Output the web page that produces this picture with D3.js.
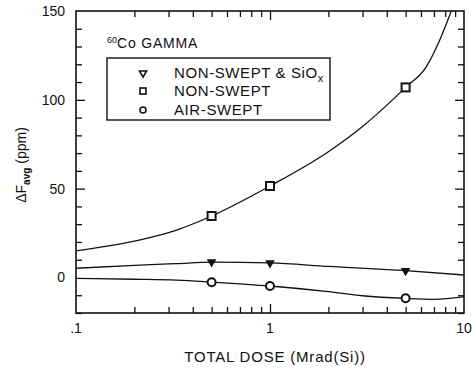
<!DOCTYPE html>
<html>
<head>
<meta charset="utf-8">
<script src="https://cdn.jsdelivr.net/npm/d3@7"></script>
<style>
  body { margin: 0; background: #fff; }
  svg { display: block; font-family: "Liberation Sans", Arial, sans-serif; }
</style>
</head>
<body>
<script>
// measured points
var doses = [0.5, 1, 5];
var nonSweptSiOx = [8.7, 8.2, 3.8];
var nonSwept = [34.6, 51.5, 107];
var airSwept = [-2.7, -4.8, -11.7];

// fitted curves
var fitSiOxX = [0.1, 0.2, 0.33, 0.5, 1, 2, 5, 10];
var fitSiOxY = [5.2, 6.8, 7.8, 8.6, 8.2, 6.2, 3.8, 1.4];
var fitNonX = [0.1, 0.15, 0.22, 0.33, 0.5, 1, 2, 3, 5, 6.4, 7.5, 8.6];
var fitNonY = [15, 17.9, 21.5, 26.7, 34.6, 51.5, 70.8, 85, 107, 118.7, 133.7, 150];
var fitAirX = [0.1, 0.2, 0.33, 0.5, 1, 2, 3, 5, 7, 10];
var fitAirY = [-0.5, -1, -1.5, -2.6, -4.8, -8, -10.3, -11.8, -12.3, -10.8];

var xTickVals = [0.1, 1, 10];
var xTickLabels = ['.1', '1', '10'];
var yTickVals = [0, 50, 100, 150];
var legendLabels = ['NON-SWEPT & SiO', 'NON-SWEPT', 'AIR-SWEPT'];

var W = 473, H = 369;
var svg = d3.select('body').append('svg')
  .attr('width', W)
  .attr('height', H);

var x = d3.scaleLog().domain([0.1, 10]).range([76, 464]);
var y = d3.scaleLinear().domain([-20, 150]).range([313, 11]);

var xMinor = [];
[0.1, 1].forEach(function (d) {
  for (var k = 2; k <= 9; k++) xMinor.push(d * k);
});
var yMinor = d3.range(-20, 151, 10).filter(function (v) { return v % 50 !== 0; });

function tickAxis(axisFn, scale, vals, size, tf) {
  var g = svg.append('g').attr('transform', tf)
    .call(axisFn(scale).tickValues(vals).tickSize(size).tickFormat(''));
  g.select('.domain').remove();
  g.selectAll('line').attr('stroke', '#111').attr('stroke-width', 1.3);
  return g;
}

// bottom & top
tickAxis(d3.axisBottom, x, xMinor, -6, 'translate(0,313)');
tickAxis(d3.axisBottom, x, [1], -9, 'translate(0,313)');
tickAxis(d3.axisTop, x, xMinor, -6, 'translate(0,11)');
tickAxis(d3.axisTop, x, [1], -9, 'translate(0,11)');
// left & right
tickAxis(d3.axisLeft, y, yMinor, -6, 'translate(76,0)');
tickAxis(d3.axisLeft, y, [50, 100], -9, 'translate(76,0)');
tickAxis(d3.axisRight, y, yMinor, -6, 'translate(464,0)');
tickAxis(d3.axisRight, y, [50, 100], -9, 'translate(464,0)');

// frame
svg.append('rect')
  .attr('x', 76).attr('y', 11)
  .attr('width', 388).attr('height', 302)
  .attr('fill', 'none')
  .attr('stroke', '#111')
  .attr('stroke-width', 1.6);

// tick labels
svg.selectAll('.xlab').data(xTickVals).enter().append('text')
  .attr('x', function (d) { return x(d); })
  .attr('y', 333)
  .attr('text-anchor', 'middle')
  .style('font-size', '14px')
  .attr('fill', '#111')
  .text(function (d, i) { return xTickLabels[i]; });

svg.selectAll('.ylab').data(yTickVals).enter().append('text')
  .attr('x', 65)
  .attr('y', function (d) { return y(d) + 5; })
  .attr('text-anchor', 'end')
  .style('font-size', '14px')
  .attr('fill', '#111')
  .text(function (d) { return d; });

// axis titles
svg.append('text')
  .attr('x', 275).attr('y', 362)
  .attr('text-anchor', 'middle')
  .style('font-size', '15px')
  .style('letter-spacing', '0.8px')
  .attr('fill', '#111')
  .text('TOTAL DOSE (Mrad(Si))');

var yt = svg.append('text')
  .attr('transform', 'translate(26,165) rotate(-90)')
  .attr('text-anchor', 'middle')
  .style('font-size', '14px')
  .attr('fill', '#111');
yt.append('tspan').text('ΔF');
yt.append('tspan').attr('dy', 4).style('font-size', '10px').style('font-weight', 'bold').text('avg');
yt.append('tspan').attr('dy', -4).text(' (ppm)');

// curves
var clip = svg.append('clipPath').attr('id', 'plot')
  .append('rect').attr('x', 76).attr('y', 11).attr('width', 388).attr('height', 302);

var line = d3.line()
  .x(function (d) { return x(d[0]); })
  .y(function (d) { return y(d[1]); })
  .curve(d3.curveMonotoneX);

[[fitSiOxX, fitSiOxY], [fitNonX, fitNonY], [fitAirX, fitAirY]].forEach(function (c) {
  svg.append('path')
    .datum(d3.zip(c[0], c[1]))
    .attr('clip-path', 'url(#plot)')
    .attr('d', line)
    .attr('fill', 'none')
    .attr('stroke', '#111')
    .attr('stroke-width', 1.3);
});

// markers
var tri = d3.symbol().type(d3.symbolTriangle).size(40);
svg.selectAll('.tri').data(d3.zip(doses, nonSweptSiOx)).enter().append('path')
  .attr('d', tri)
  .attr('transform', function (d) { return 'translate(' + x(d[0]) + ',' + y(d[1]) + ') rotate(180)'; })
  .attr('fill', '#111');

svg.selectAll('.sq').data(d3.zip(doses, nonSwept)).enter().append('rect')
  .attr('x', function (d) { return x(d[0]) - 4; })
  .attr('y', function (d) { return y(d[1]) - 4; })
  .attr('width', 8).attr('height', 8)
  .attr('fill', '#fff')
  .attr('stroke', '#111')
  .attr('stroke-width', 2);

svg.selectAll('.circ').data(d3.zip(doses, airSwept)).enter().append('circle')
  .attr('cx', function (d) { return x(d[0]); })
  .attr('cy', function (d) { return y(d[1]); })
  .attr('r', 4)
  .attr('fill', '#fff')
  .attr('stroke', '#111')
  .attr('stroke-width', 2);

// legend
var lt = svg.append('text')
  .attr('x', 107).attr('y', 48)
  .style('font-size', '14px')
  .style('letter-spacing', '0.8px')
  .attr('fill', '#111');
lt.append('tspan').attr('dy', -5).style('font-size', '9px').style('letter-spacing', '0').text('60');
lt.append('tspan').attr('dy', 5).text('Co GAMMA');

svg.append('rect')
  .attr('x', 107).attr('y', 58)
  .attr('width', 223).attr('height', 62)
  .attr('fill', 'none')
  .attr('stroke', '#111')
  .attr('stroke-width', 1.4);

var rows = [73, 91, 110];
svg.append('path')
  .attr('d', d3.symbol().type(d3.symbolTriangle).size(22))
  .attr('transform', 'translate(143,' + rows[0] + ') rotate(180)')
  .attr('fill', '#fff').attr('stroke', '#111').attr('stroke-width', 1.6);
svg.append('rect')
  .attr('x', 140).attr('y', rows[1] - 3).attr('width', 6).attr('height', 6)
  .attr('fill', '#fff').attr('stroke', '#111').attr('stroke-width', 1.6);
svg.append('circle')
  .attr('cx', 143).attr('cy', rows[2]).attr('r', 3)
  .attr('fill', '#fff').attr('stroke', '#111').attr('stroke-width', 1.6);

svg.selectAll('.leg').data(legendLabels).enter().append('text')
  .attr('x', 174)
  .attr('y', function (d, i) { return rows[i] + 5; })
  .style('font-size', '15px')
  .style('letter-spacing', '0.6px')
  .attr('fill', '#111')
  .each(function (d, i) {
    var t = d3.select(this);
    t.append('tspan').text(d);
    if (i === 0) t.append('tspan').attr('dy', 4).style('font-size', '11px').text('x');
  });
</script>
</body>
</html>
